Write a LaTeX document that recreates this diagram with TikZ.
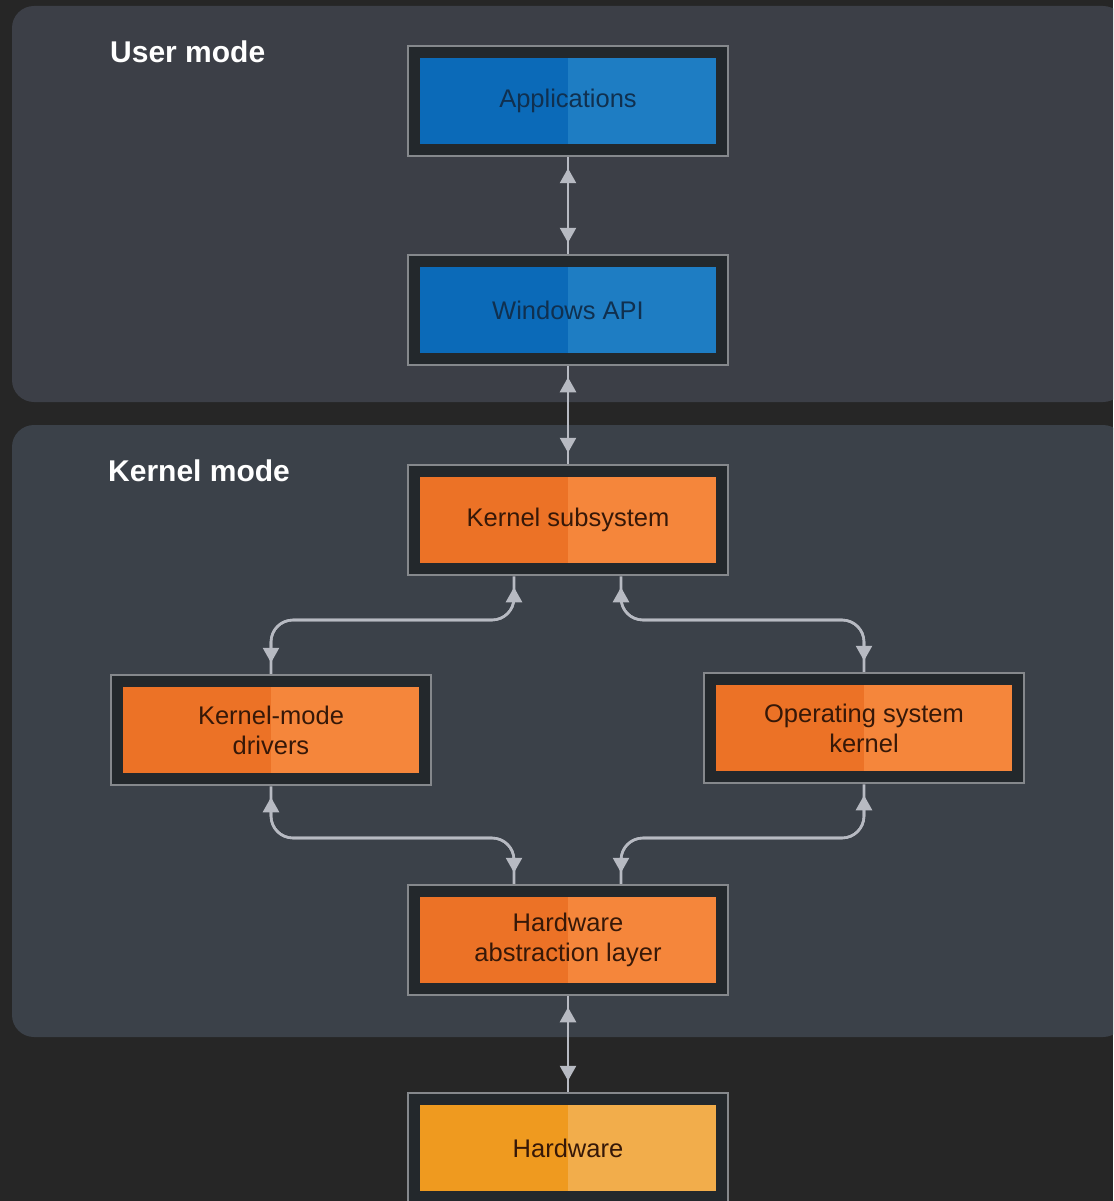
\documentclass[tikz,border=0pt]{standalone}
\usepackage{fontspec}
\setmainfont{Liberation Sans}
\usetikzlibrary{arrows.meta,calc}
\definecolor{bgdark}{HTML}{262626}
\definecolor{userpanel}{HTML}{3C3F47}
\definecolor{kernpanel}{HTML}{3B4149}
\definecolor{framegray}{HTML}{85888C}
\definecolor{innerdark}{HTML}{23282C}
\definecolor{blueL}{HTML}{0B6AB8}
\definecolor{blueR}{HTML}{1E7DC3}
\definecolor{orL}{HTML}{EC7226}
\definecolor{orR}{HTML}{F5863B}
\definecolor{hwL}{HTML}{EF9A1F}
\definecolor{hwR}{HTML}{F2AD4B}
\definecolor{bluetext}{HTML}{10304F}
\definecolor{ortext}{HTML}{361808}
\definecolor{conncol}{HTML}{B7BAC2}
\tikzset{
  panel/.style={fill=#1, rounded corners=22pt},
  halves/.style 2 args={path picture={
      \fill[#1] ([shift={(12pt,12pt)}]path picture bounding box.south west) rectangle ([yshift=-12pt]path picture bounding box.north);
      \fill[#2] ([yshift=12pt]path picture bounding box.south) rectangle ([shift={(-12pt,-12pt)}]path picture bounding box.north east);
  }},
  layerbox/.style={draw=framegray, line width=2.5pt, fill=innerdark, minimum width=320pt, minimum height=110pt,
      inner sep=0pt, align=center, font=\fontsize{25.5}{30}\selectfont},
  bluebox/.style={layerbox, halves={blueL}{blueR}, text=bluetext},
  orbox/.style={layerbox, halves={orL}{orR}, text=ortext},
  hwbox/.style={layerbox, halves={hwL}{hwR}, text=ortext},
  conn/.style={draw=conncol, line width=2.6pt, rounded corners=22pt},
  tips/.style={conn, {Triangle[length=15pt,width=16pt]}-{Triangle[length=15pt,width=16pt]}, shorten <=11pt, shorten >=11pt},
  modetitle/.style={anchor=west, text=white, font=\fontsize{30}{36}\selectfont\bfseries, inner sep=0pt}
}
\begin{document}
\begin{tikzpicture}[x=1pt,y=-1pt]
\useasboundingbox (0,0) rectangle (1113,1201);
\clip (0,0) rectangle (1113,1201);
\fill[bgdark] (0,0) rectangle (1113,1201);
\path[panel=userpanel] (12,6) rectangle (1125,402);
\path[panel=kernpanel] (12,425) rectangle (1125,1037);

\node[modetitle] (um) at (110,52) {User mode};
\node[modetitle] (km) at (108,471) {Kernel mode};

\node[bluebox] (app) at (568,101) {Applications};
\node[bluebox] (api) at (568,310) {Windows API};
\node[orbox] (ks) at (568,520) {Kernel subsystem};
\node[orbox] (kmd) at (271,730) {Kernel-mode\\drivers};
\node[orbox] (osk) at (864,728) {Operating system\\kernel};
\node[orbox] (hal) at (568,940) {Hardware\\abstraction layer};
\node[hwbox] (hw) at (568,1148) {Hardware};

% vertical links
\draw[conn] (app.south) -- (api.north);
\draw[tips] (app.south) -- (api.north);
\draw[conn] (api.south) -- (ks.north);
\draw[tips] (api.south) -- (ks.north);
\draw[conn] (hal.south) -- (hw.north);
\draw[tips] (hal.south) -- (hw.north);

% branch links
\coordinate (ksL) at ([xshift=-54pt]ks.south);
\coordinate (ksR) at ([xshift=53pt]ks.south);
\coordinate (halL) at ([xshift=-54pt]hal.north);
\coordinate (halR) at ([xshift=53pt]hal.north);
\coordinate (up) at (0,620);
\coordinate (lo) at (0,838);

\draw[conn] (ksL) -- (ksL |- up) -- (kmd.north |- up) -- (kmd.north);
\draw[tips] (ksL) -- (ksL |- up) -- (kmd.north |- up) -- (kmd.north);
\draw[conn] (ksR) -- (ksR |- up) -- (osk.north |- up) -- (osk.north);
\draw[tips] (ksR) -- (ksR |- up) -- (osk.north |- up) -- (osk.north);
\draw[conn] (kmd.south) -- (kmd.south |- lo) -- (halL |- lo) -- (halL);
\draw[tips] (kmd.south) -- (kmd.south |- lo) -- (halL |- lo) -- (halL);
\draw[conn] (osk.south) -- (osk.south |- lo) -- (halR |- lo) -- (halR);
\draw[tips] (osk.south) -- (osk.south |- lo) -- (halR |- lo) -- (halR);
\end{tikzpicture}
\end{document}
